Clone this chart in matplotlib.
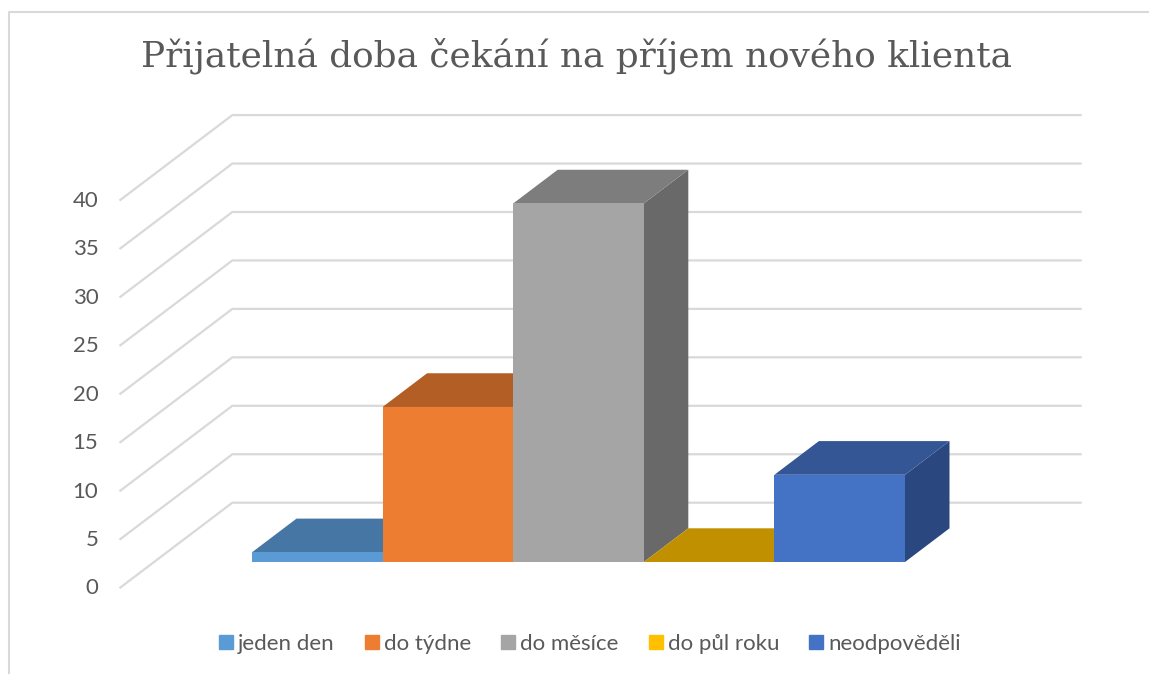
import matplotlib
matplotlib.use("Agg")
import matplotlib.pyplot as plt
from matplotlib.patches import Polygon

title = "Přijatelná doba čekání na příjem nového klienta"
categories = ["jeden den", "do týdne", "do měsíce", "do půl roku", "neodpověděli"]
values = [1, 16, 37, 0, 9]
front_colors = ["#5B9BD5", "#ED7D31", "#A5A5A5", "#FFC000", "#4472C4"]
top_colors = ["#4676A3", "#B25E25", "#7D7D7D", "#C09000", "#345695"]
side_colors = ["#3B6389", "#954F1F", "#696969", "#A17A00", "#2A4780"]
ticks = [0, 5, 10, 15, 20, 25, 30, 35, 40]

W, H = 1149, 674
# pixels per unit, front plane of the bars
px_x = 130.6
px_y = 9.69
x0 = 252
y0 = 562
# shift of one bar depth, in data units
dep_x = 44.5 / px_x
dep_y = 33.7 / px_y
wall_back = 1.76
wall_front = -0.757
wall_left = -0.75
wall_right = 5.745


def pt(x, v, d=0):
    return (x + d * dep_x, v + d * dep_y)


fig = plt.figure(figsize=(W / 100, H / 100), dpi=100)
ax = fig.add_axes([0, 0, 1, 1])
ax.set_xlim(-x0 / px_x, (W - x0) / px_x)
ax.set_ylim((y0 - H) / px_y, y0 / px_y)
ax.axis("off")

grid = "#D9D9D9"
for t in ticks:
    a = pt(wall_left, t, wall_front)
    b = pt(wall_left, t, wall_back)
    c = pt(wall_right, t, wall_back)
    ax.plot([a[0], b[0], c[0]], [a[1], b[1], c[1]], color=grid, lw=1.6, zorder=1,
            solid_joinstyle="miter")
    ax.text(a[0] - 22 / px_x, a[1] - 0.1, str(t), ha="right", va="center",
            fontsize=16, color="#595959", family="Lato")

for i, v in enumerate(values):
    # top and right side go first, the next bar covers them
    top = [pt(i, v), pt(i + 1, v), pt(i + 1, v, 1), pt(i, v, 1)]
    side = [pt(i + 1, 0), pt(i + 1, v), pt(i + 1, v, 1), pt(i + 1, 0, 1)]
    ax.add_patch(Polygon(side, color=side_colors[i], lw=0, zorder=2 + i))
    ax.add_patch(Polygon(top, color=top_colors[i], lw=0, zorder=2 + i))
    ax.bar(i, v, width=1, align="edge", color=front_colors[i], zorder=2 + i)

ax.text((576 - x0) / px_x, (y0 - 56) / px_y, title, ha="center", va="center",
        fontsize=25.85, color="#595959", family="DejaVu Serif")

# legend
leg_handles = [plt.Rectangle((0, 0), 1, 1, color=c) for c in front_colors]
fig.legend(leg_handles, categories, loc="center", bbox_to_anchor=(590 / W, 1 - 644 / H), ncol=5,
           frameon=False, labelcolor="#595959", handlelength=0.63, handleheight=0.63,
           handletextpad=0.23, columnspacing=1.35, prop={"family": "Lato", "size": 16})

# chart border, only top and left are visible
fig.add_artist(plt.Line2D([8.5 / W, 8.5 / W, 1], [0, 1 - 12 / H, 1 - 12 / H],
                          color=grid, lw=1.5))

fig.savefig("out.png", dpi=100)
